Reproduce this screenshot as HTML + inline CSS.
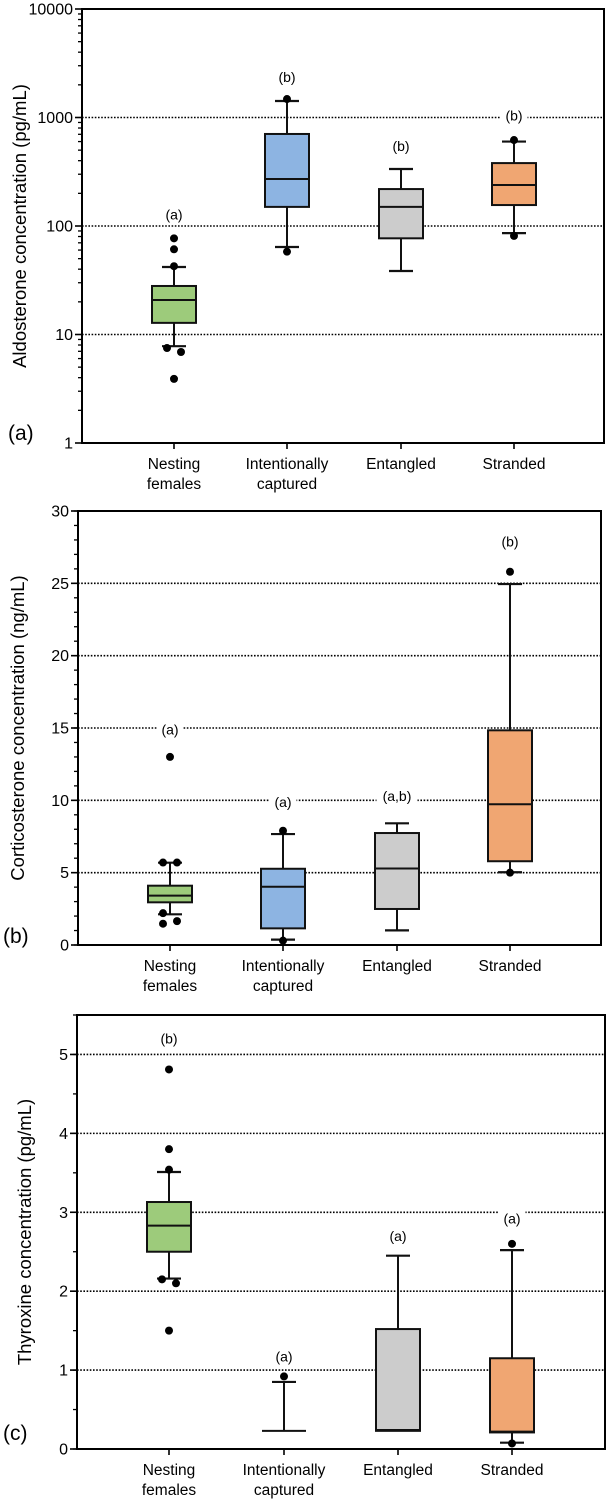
<!DOCTYPE html>
<html><head><meta charset="utf-8"><style>
html,body{margin:0;padding:0;background:#fff}
svg{display:block;font-family:"Liberation Sans",Arial,sans-serif}
</style></head><body>
<svg id="fig" width="607" height="1500" viewBox="0 0 607 1500" xmlns="http://www.w3.org/2000/svg"></svg>
<script>
const categories = [["Nesting","females"],["Intentionally","captured"],["Entangled",""],["Stranded",""]];
const colors = ["#9dcb7b","#8db4e2","#cccccc","#f0a672"];
// Panel a: aldosterone [whiskerLow, q1, median, q3, whiskerHigh]
const aldoBoxes = [[7.8,12.8,20.8,28,41.9],[64,150,271,705,1420],[38.5,77,150,219,335],[86,156,239,380,600]];
const aldoOutliers = [[77,61,42.6,7.5,6.9,3.9],[1480,58],[],[620,81]];
const aldoOutlierOffsets = [[0,0,0,-7,7,0],[0,0],[],[0,0]];
const aldoLetters = ["(a)","(b)","(b)","(b)"];
const aldoLetterVals = [128,2350,545,1040];
const aldoTicks = [1,10,100,1000,10000];
// Panel b: corticosterone
const cortBoxes = [[2.12,2.95,3.41,4.10,5.69],[0.37,1.15,4.03,5.27,7.67],[1.01,2.49,5.29,7.74,8.41],[5.03,5.79,9.73,14.84,24.95]];
const cortOutliers = [[13.0,5.7,5.7,2.2,1.47,1.65],[7.9,0.3],[],[25.8,5.0]];
const cortOutlierOffsets = [[0,-7,7,-7,-7,7],[0,0],[],[0,0]];
const cortLetters = ["(a)","(a)","(a,b)","(b)"];
const cortLetterVals = [14.9,9.9,10.3,27.9];
const cortTicks = [0,5,10,15,20,25,30];
// Panel c: thyroxine
const thyBoxes = [[2.16,2.50,2.83,3.13,3.51],[0.23,0.23,0.23,0.23,0.85],[0.23,0.23,0.24,1.52,2.45],[0.08,0.21,0.22,1.15,2.52]];
const thyOutliers = [[4.81,3.80,3.54,2.15,2.10,1.50],[0.92],[],[2.60,0.07]];
const thyOutlierOffsets = [[0,0,0,-7,7,0],[0],[],[0,0]];
const thyLetters = ["(b)","(a)","(a)","(a)"];
const thyLetterVals = [5.2,1.17,2.7,2.92];
const thyTicks = [0,1,2,3,4,5];

const NS="http://www.w3.org/2000/svg";
const svg=document.getElementById('fig');
function mk(tag,attrs,parent){const e=document.createElementNS(NS,tag);for(const k in attrs)e.setAttribute(k,attrs[k]);(parent||svg).appendChild(e);return e;}

function panel(cfg){
  const g=mk('g',{});
  
  
  const {L,R,T,B}=cfg;
  let y;
  if(cfg.log){const lo=Math.log10(cfg.min),hi=Math.log10(cfg.max);y=v=>B-(Math.log10(v)-lo)/(hi-lo)*(B-T);}
  else y=v=>B-(v-cfg.min)/(cfg.max-cfg.min)*(B-T);
  const x=i=>L+(cfg.centers[i]);
  cfg.ticks.forEach(t=>{
    if(t===cfg.min||t===cfg.max)return;
    const gl=mk('line',{x1:L,x2:R,y1:y(t),y2:y(t),stroke:'#000','stroke-width':1.6,'stroke-dasharray':'1.6,1.6'},g);
    
    
  });
  if(cfg.log){
    for(let d=cfg.min;d<cfg.max;d*=10)for(let k=2;k<=9;k++){mk('line',{x1:L-4,x2:L,y1:y(d*k),y2:y(d*k),stroke:'#000','stroke-width':1.3},g);}
  } else {
    for(let v=cfg.min;v<=cfg.max+1e-9;v+=cfg.minor){mk('line',{x1:L-4,x2:L,y1:y(v),y2:y(v),stroke:'#000','stroke-width':1.3},g);}
  }
  cfg.ticks.forEach(t=>{
    mk('line',{x1:L-7,x2:L,y1:y(t),y2:y(t),stroke:'#000','stroke-width':1.6},g);
    const tx=mk('text',{x:L-9,y:y(t)+5.5,'text-anchor':'end','font-size':16,fill:'#000'},g);
    tx.textContent=t;
    
    
  });
  cfg.boxes.forEach((b,i)=>{
    const cx=x(i),hw=22,cw=12;
    const bg=mk('g',{},g);
    
    
    mk('line',{x1:cx,x2:cx,y1:y(b[0]),y2:y(b[4]),stroke:'#111','stroke-width':2},bg);
    mk('line',{x1:cx-cw,x2:cx+cw,y1:y(b[4]),y2:y(b[4]),stroke:'#111','stroke-width':2.2},bg);
    if(b[0]!==b[1])mk('line',{x1:cx-cw,x2:cx+cw,y1:y(b[0]),y2:y(b[0]),stroke:'#111','stroke-width':2.2},bg);
    if(b[3]>b[1]) mk('rect',{x:cx-hw,y:y(b[3]),width:2*hw,height:y(b[1])-y(b[3]),fill:colors[i],stroke:'#111','stroke-width':2},bg);
    mk('line',{x1:cx-hw,x2:cx+hw,y1:y(b[2]),y2:y(b[2]),stroke:'#111','stroke-width':2},bg);
    cfg.outliers[i].forEach((v,j)=>{
      const c=mk('circle',{cx:cx+cfg.offsets[i][j],cy:y(v),r:4,fill:'#000'},bg);
      
      
    });
    const ly=y(cfg.letterVals[i]);
    const w=cfg.letters[i].length*7+6;
    mk('rect',{x:cx-w/2,y:ly-10,width:w,height:18,fill:'#fff'},g);
    const lt=mk('text',{x:cx,y:ly+5,'text-anchor':'middle','font-size':14,fill:'#000'},g);
    lt.textContent=cfg.letters[i];
    
    
    mk('line',{x1:cx,x2:cx,y1:B,y2:B+6,stroke:'#000','stroke-width':1.6},g);
    categories[i].forEach((s,k)=>{
      if(!s)return;
      const ct=mk('text',{x:cx,y:B+26+k*20,'text-anchor':'middle','font-size':15.5,fill:'#000'},g);
      ct.textContent=s;
      
      
    });
  });
  const fr=mk('rect',{x:L,y:T,width:R-L,height:B-T,fill:'none',stroke:'#000','stroke-width':2},g);
  
  
  const yt=mk('text',{x:0,y:0,'text-anchor':'middle','font-size':18.5,fill:'#000',transform:`translate(${cfg.titleX},${(T+B)/2}) rotate(-90)`},g);
  yt.textContent=cfg.title;
  
  
  const pl=mk('text',{x:cfg.labX,y:cfg.labY,'font-size':21,fill:'#000'},g);
  pl.textContent=cfg.label;
  
  
}

panel({name:'panel-a-aldosterone',L:82,R:604,T:9,B:443,log:true,min:1,max:10000,ticks:aldoTicks,
  centers:[92,205,319,432],boxes:aldoBoxes,outliers:aldoOutliers,offsets:aldoOutlierOffsets,
  letters:aldoLetters,letterVals:aldoLetterVals,title:'Aldosterone concentration (pg/mL)',titleX:26,label:'(a)',labX:8,labY:440});
panel({name:'panel-b-corticosterone',L:78,R:601,T:511,B:945,log:false,min:0,max:30,minor:1,ticks:cortTicks,
  centers:[92,205,319,432],boxes:cortBoxes,outliers:cortOutliers,offsets:cortOutlierOffsets,
  letters:cortLetters,letterVals:cortLetterVals,title:'Corticosterone concentration (ng/mL)',titleX:24,label:'(b)',labX:3,labY:943});
panel({name:'panel-c-thyroxine',L:77,R:605,T:1015,B:1449,log:false,min:0,max:5.5,minor:0.5,ticks:thyTicks,
  centers:[92,207,321,435],boxes:thyBoxes,outliers:thyOutliers,offsets:thyOutlierOffsets,
  letters:thyLetters,letterVals:thyLetterVals,title:'Thyroxine concentration (pg/mL)',titleX:31,label:'(c)',labX:3,labY:1440});
</script>
</body></html>
